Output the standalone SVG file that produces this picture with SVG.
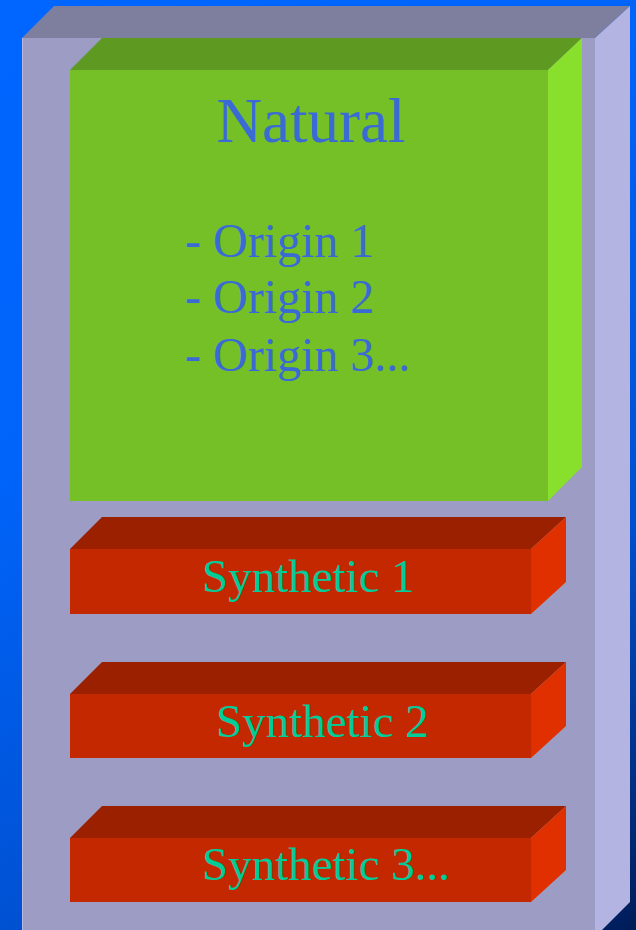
<svg xmlns="http://www.w3.org/2000/svg" width="636" height="930" viewBox="0 0 636 930">
<defs>
<linearGradient id="bg" x1="0" y1="0" x2="636" y2="930" gradientUnits="userSpaceOnUse">
<stop offset="0" stop-color="#0066ff"/>
<stop offset="0.35" stop-color="#0064fa"/>
<stop offset="0.7" stop-color="#0050d0"/>
<stop offset="1" stop-color="#001c58"/>
</linearGradient>
</defs>
<style>
.bf{fill:#9c9cc4}.bt{fill:#7e7e9e}.br{fill:#b4b4e2}
.gf{fill:#74c026}.gt{fill:#5e9a22}.gr{fill:#88e02c}
.rf{fill:#c42800}.rt{fill:#9a2000}.rr{fill:#e03000}
.t1{font-family:"Liberation Serif","Times New Roman",serif;fill:#3a6ad4}
.t2{font-family:"Liberation Serif","Times New Roman",serif;fill:#00cc99;font-size:47px}
</style>
<rect width="636" height="930" fill="url(#bg)"/>
<g id="container">
<polygon class="bt" points="22,38 54,6 630,6 595,38"/>
<polygon class="br" points="595,38 630,6 630,902 595,937"/>
<rect class="bf" x="22" y="38" width="573" height="892"/>
<line x1="22.5" y1="38" x2="22.5" y2="930" stroke="#b8b8e0" stroke-width="1"/>
</g>
<g id="natural">
<polygon class="gt" points="70,70 102,38 582,38 548,70"/>
<polygon class="gr" points="548,70 582,38 582,467 548,501"/>
<rect class="gf" x="70" y="70" width="478" height="431"/>
<text class="t1" x="311" y="142" font-size="63" text-anchor="middle">Natural</text>
<text class="t1" x="185" y="257" font-size="48">- Origin 1</text>
<text class="t1" x="185" y="313" font-size="48">- Origin 2</text>
<text class="t1" x="185" y="371" font-size="48">- Origin 3...</text>
</g>
<g id="synthetic1">
<polygon class="rt" points="70,549 102,517 566,517 531,549"/>
<polygon class="rr" points="531,549 566,517 566,582 531,614"/>
<rect class="rf" x="70" y="549" width="461" height="65"/>
<text class="t2" x="202" y="592">Synthetic 1</text>
</g>
<g id="synthetic2">
<polygon class="rt" points="70,694 102,662 566,662 531,694"/>
<polygon class="rr" points="531,694 566,662 566,726 531,758"/>
<rect class="rf" x="70" y="694" width="461" height="64"/>
<text class="t2" x="216" y="737">Synthetic 2</text>
</g>
<g id="synthetic3">
<polygon class="rt" points="70,838 102,806 566,806 531,838"/>
<polygon class="rr" points="531,838 566,806 566,870 531,902"/>
<rect class="rf" x="70" y="838" width="461" height="64"/>
<text class="t2" x="202" y="880">Synthetic 3...</text>
</g>
<g id="connectors"></g>
</svg>
